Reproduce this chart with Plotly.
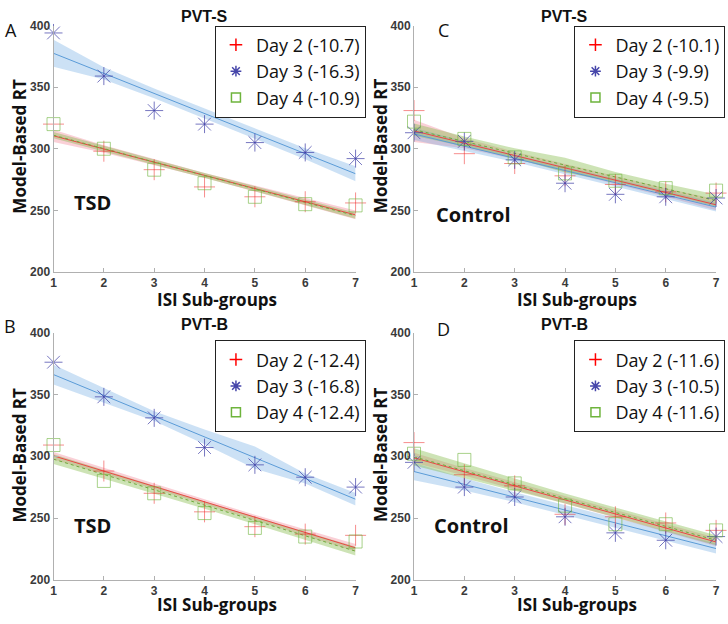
import plotly.graph_objects as go
from plotly.subplots import make_subplots

# x positions (ISI sub-groups)
isi = [1, 2, 3, 4, 5, 6, 7]
yticks = [200, 250, 300, 350, 400]

# Panel A : TSD, PVT-S
A_day2 = [320, 298, 283, 269, 261, 257, 256]
A_day3 = [394, 359, 331, 320, 305, 297, 292]
A_day4 = [320, 300, 283, 272, 261, 255, 254]
A_day2_fit = [310.5, 299.8, 289.1, 278.4, 267.7, 257.0, 246.3]
A_day3_fit = [377.5, 361.2, 344.9, 328.6, 312.3, 296.0, 279.7]
A_day4_fit = [311.0, 300.1, 289.2, 278.3, 267.4, 256.5, 245.6]
A_day2_ci = [5, 3, 2.5, 2, 2.5, 3, 3.5]
A_day3_ci = [11, 5, 4, 4, 4, 4.5, 6]
A_day4_ci = [2.5, 2, 2, 2, 2, 2, 2.5]
A_slopes = ["-10.7", "-16.3", "-10.9"]

# Panel B : TSD, PVT-B
B_day2 = [309, 288, 270, 255, 243, 237, 236]
B_day3 = [376, 348, 331, 307, 293, 283, 275]
B_day4 = [309, 280, 270, 254, 242, 235, 231]
B_day2_fit = [300.3, 287.9, 275.5, 263.1, 250.7, 238.3, 225.9]
B_day3_fit = [366.0, 349.2, 332.4, 315.6, 298.8, 282.0, 265.2]
B_day4_fit = [297.6, 285.2, 272.8, 260.4, 248.0, 235.6, 223.2]
B_day2_ci = [3, 2.5, 2, 2, 2, 2.5, 3]
B_day3_ci = [8, 6, 4, 6, 9, 4, 5]
B_day4_ci = [4, 3.5, 3, 3, 3, 3, 3.5]
B_slopes = ["-12.4", "-16.8", "-12.4"]

# Panel C : Control, PVT-S
C_day2 = [331, 296, 288, 278, 271, 265, 264]
C_day3 = [313, 306, 291, 272, 263, 261, 260]
C_day4 = [322, 308, 293, 280, 274, 268, 266]
C_day2_fit = [314.5, 304.5, 294.5, 284.5, 274.5, 264.5, 254.5]
C_day3_fit = [312.0, 302.1, 292.2, 282.3, 272.4, 262.5, 252.6]
C_day4_fit = [315.5, 305.9, 296.3, 286.7, 277.1, 267.5, 257.9]
C_day2_ci = [9, 4, 3, 3, 3, 3.5, 4.5]
C_day3_ci = [5, 4, 3, 3, 3, 3, 3.5]
C_day4_ci = [5, 4, 4, 6, 4, 4, 5]
C_slopes = ["-10.1", "-9.9", "-9.5"]

# Panel D : Control, PVT-B
D_day2 = [311, 285, 276, 253, 251, 246, 240]
D_day3 = [295, 275, 267, 251, 238, 232, 235]
D_day4 = [302, 297, 278, 260, 245, 245, 240]
D_day2_fit = [298.7, 287.4, 276.0, 264.7, 253.3, 242.0, 230.6]
D_day3_fit = [287.6, 277.2, 266.8, 256.4, 246.1, 235.7, 225.3]
D_day4_fit = [299.5, 288.3, 277.0, 265.8, 254.5, 243.3, 232.0]
D_day2_ci = [4, 3, 3, 3, 3, 3, 3.5]
D_day3_ci = [7, 5, 4, 4, 4, 4, 4]
D_day4_ci = [7, 6, 5, 4, 4, 4, 4]
D_slopes = ["-11.6", "-10.5", "-11.6"]

days = ["Day 2", "Day 3", "Day 4"]

# style per day
sty = [
    dict(mc="rgba(240,30,30,0.5)", lc="rgb(255,0,0)", sym="cross-thin-open", size=15,
         line="rgb(235,70,70)", dash="solid", band="rgba(240,120,140,0.35)"),
    dict(mc="rgba(60,60,165,0.7)", lc="rgb(70,70,170)", sym="asterisk-open", size=15,
         line="rgb(90,155,215)", dash="solid", band="rgba(110,170,225,0.35)"),
    dict(mc="rgba(110,180,60,0.6)", lc="rgb(110,180,60)", sym="square-open", size=13,
         line="rgb(110,170,60)", dash="dot", band="rgba(130,185,70,0.4)"),
]

panels = [
    # row, col, points, fits, cis, slopes, legend id
    (1, 1, [A_day2, A_day3, A_day4], [A_day2_fit, A_day3_fit, A_day4_fit],
     [A_day2_ci, A_day3_ci, A_day4_ci], A_slopes, "legend"),
    (1, 2, [C_day2, C_day3, C_day4], [C_day2_fit, C_day3_fit, C_day4_fit],
     [C_day2_ci, C_day3_ci, C_day4_ci], C_slopes, "legend2"),
    (2, 1, [B_day2, B_day3, B_day4], [B_day2_fit, B_day3_fit, B_day4_fit],
     [B_day2_ci, B_day3_ci, B_day4_ci], B_slopes, "legend3"),
    (2, 2, [D_day2, D_day3, D_day4], [D_day2_fit, D_day3_fit, D_day4_fit],
     [D_day2_ci, D_day3_ci, D_day4_ci], D_slopes, "legend4"),
]

fig = make_subplots(rows=2, cols=2)

for r, c, pts, fits, cis, slopes, leg in panels:
    # confidence bands
    for i in range(3):
        up = [f + e for f, e in zip(fits[i], cis[i])]
        lo = [f - e for f, e in zip(fits[i], cis[i])]
        fig.add_trace(go.Scatter(x=isi + isi[::-1], y=up + lo[::-1], fill="toself",
                                 fillcolor=sty[i]["band"], line=dict(width=0),
                                 mode="lines", hoverinfo="skip", showlegend=False),
                      row=r, col=c)
    # fit lines
    for i in range(3):
        fig.add_trace(go.Scatter(x=isi, y=fits[i], mode="lines",
                                 line=dict(color=sty[i]["line"], width=1, dash=sty[i]["dash"]),
                                 showlegend=False), row=r, col=c)
    # observed points
    for i in range(3):
        fig.add_trace(go.Scatter(x=isi, y=pts[i], mode="markers", cliponaxis=False,
                                 marker=dict(symbol=sty[i]["sym"], size=sty[i]["size"],
                                             color=sty[i]["mc"],
                                             line=dict(color=sty[i]["mc"], width=1)),
                                 showlegend=False), row=r, col=c)
    # legend entries
    for i in range(3):
        fig.add_trace(go.Scatter(x=[None], y=[None], mode="markers",
                                 name=f"{days[i]} ({slopes[i]})", legend=leg,
                                 marker=dict(symbol=sty[i]["sym"], size=9,
                                             color=sty[i]["lc"],
                                             line=dict(color=sty[i]["lc"], width=1.5))),
                      row=r, col=c)

W, H = 728, 624
xdom = [[51 / W, 356 / W], [415 / W, 720 / W]]
ydom = [[1 - 271 / H, 1 - 19 / H], [1 - 586 / H, 1 - 333 / H]]

tickfont = dict(family="Liberation Sans", size=12, color="#3a3a3a")
for r in (1, 2):
    for c in (1, 2):
        fig.update_xaxes(domain=xdom[c - 1], range=[1, 7], tickvals=isi,
                         ticktext=[f"<b>{v}</b>" for v in isi], showgrid=False,
                         zeroline=False, showline=True, linecolor="#b0b0b0", linewidth=1,
                         ticks="inside", ticklen=4, tickcolor="#b0b0b0",
                         tickfont=tickfont, row=r, col=c)
        fig.update_yaxes(domain=ydom[r - 1], range=[200, 400], tickvals=yticks,
                         ticktext=[f"<b>{v}</b>" for v in yticks], showgrid=False,
                         zeroline=False, showline=True, linecolor="#b0b0b0", linewidth=1,
                         ticks="inside", ticklen=4, tickcolor="#b0b0b0",
                         tickfont=tickfont, row=r, col=c)

legstyle = dict(font=dict(family="Open Sans", size=18, color="#111111"),
                bgcolor="white", bordercolor="#222222", borderwidth=1,
                xanchor="left", yanchor="top", itemwidth=30, tracegroupgap=0)
fig.update_layout(
    legend=dict(x=214 / W, y=1 - 19 / H, **legstyle),
    legend2=dict(x=577 / W, y=1 - 19 / H, **legstyle),
    legend3=dict(x=214 / W, y=1 - 341 / H, **legstyle),
    legend4=dict(x=577 / W, y=1 - 341 / H, **legstyle),
)

ann = []
bold = dict(family="Open Sans", color="#111111", weight="bold")
ctr = dict(xref="paper", yref="paper", xanchor="center", yanchor="middle", showarrow=False)
# panel titles
for x, y, t in [(203, 10, "PVT-S"), (567, 10, "PVT-S"), (203, 325, "PVT-B"), (567, 325, "PVT-B")]:
    ann.append(dict(x=x / W, y=1 - y / H, text=t, **ctr,
                    font=dict(family="Liberation Sans", size=16, color="#111111", weight="bold")))
# axis titles
for x, y in [(17, 142), (381, 142), (17, 458), (381, 458)]:
    ann.append(dict(x=x / W, y=1 - y / H, text="Model-Based RT", textangle=-90, **ctr,
                    font=dict(size=17, **bold)))
for x, y in [(216, 299), (580, 299), (216, 611), (580, 611)]:
    ann.append(dict(x=x / W, y=1 - y / H, text="ISI Sub-groups", **ctr,
                    font=dict(size=17, **bold)))
# panel letters
for x, y, t in [(8, 24, "A"), (445, 24, "C"), (7, 326, "B"), (445, 329, "D")]:
    ann.append(dict(x=x / W, y=1 - y / H, text=t, **ctr,
                    font=dict(family="Open Sans", size=18, color="#111111")))
# group labels
for xr, yr, x, y, t in [("x", "y", 1.77, 256, "TSD"), ("x2", "y2", 2.18, 247, "Control"),
                        ("x3", "y3", 1.77, 244, "TSD"), ("x4", "y4", 2.15, 244, "Control")]:
    ann.append(dict(x=x, y=y, xref=xr, yref=yr, text=t, showarrow=False,
                    xanchor="center", yanchor="middle", font=dict(size=20, **bold)))

fig.update_layout(annotations=ann, width=W, height=H, margin=dict(l=0, r=0, t=0, b=0),
                  plot_bgcolor="white", paper_bgcolor="white")

# the browser's default 8px body margin would shift the figure
fig.write_html("out.html", config={"displayModeBar": False},
               post_script="document.body.style.margin='0';")
